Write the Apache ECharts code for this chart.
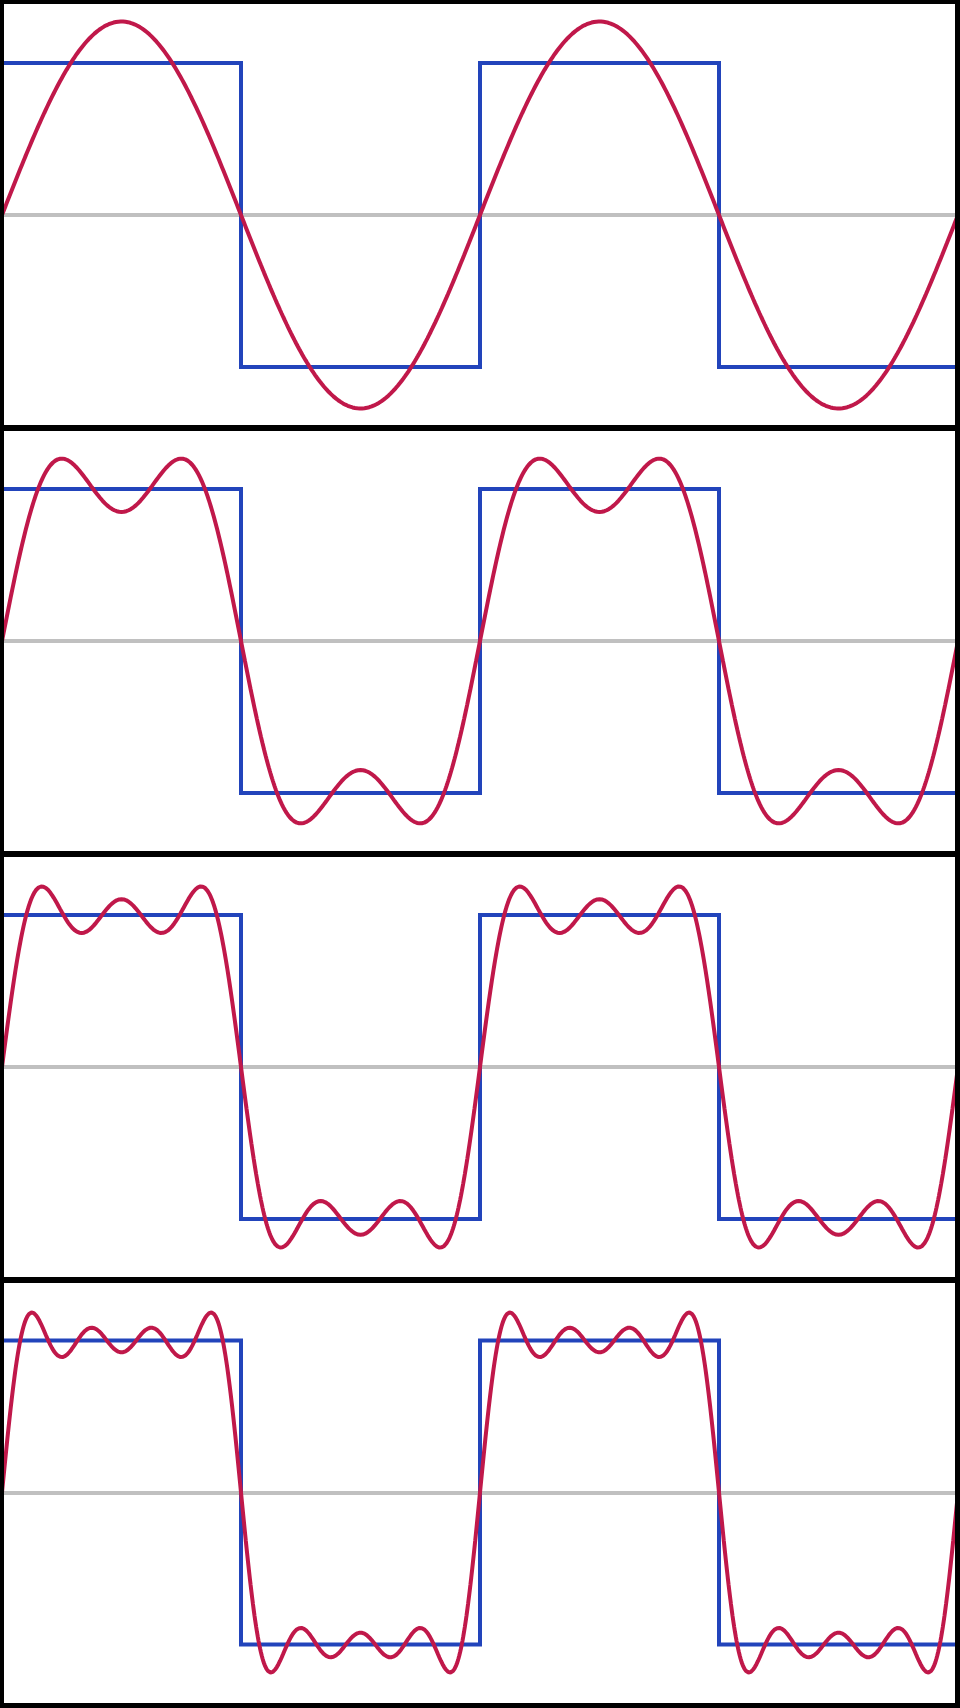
<!DOCTYPE html>
<html><head><meta charset="utf-8">
<script src="https://cdn.jsdelivr.net/npm/echarts@6/dist/echarts.min.js"></script>
<style>html,body{margin:0;padding:0;background:#fff}#c{width:960px;height:1708px}</style>
</head><body><div id="c"></div>
<script>
// Fourier partial sums of a square wave (amplitude 1, period 1)
const harmonicOrders = [1, 3, 5, 7];
const harmonicAmplitudes = [1.273, 0.424, 0.255, 0.182];
const termsPerPanel = [1, 2, 3, 4];
const squareEdges = [0, 0.5, 1, 1.5, 2];
const squareLevels = [1, -1, 1, -1];
const panelCenters = [215, 641, 1067, 1492.5];

const BLUE = '#2244BB', RED = '#C0184A', GREY = '#C0C0C0';
const SAMPLES = 1200;
const Y_EXT = 1.38, PX_PER_UNIT = 152;

function squareData() {
  const d = [];
  for (let i = 0; i < squareLevels.length; i++) {
    d.push([squareEdges[i], squareLevels[i]]);
    d.push([squareEdges[i + 1], squareLevels[i]]);
  }
  return d;
}
function partialSum(n) {
  const d = [];
  const x0 = squareEdges[0], x1 = squareEdges[squareEdges.length - 1];
  for (let i = 0; i <= SAMPLES; i++) {
    const x = x0 + (x1 - x0) * i / SAMPLES;
    let y = 0;
    for (let k = 0; k < n; k++) y += harmonicAmplitudes[k] * Math.sin(2 * Math.PI * harmonicOrders[k] * x);
    d.push([x, y]);
  }
  return d;
}

const grids = [], xAxes = [], yAxes = [], series = [];
const half = Y_EXT * PX_PER_UNIT;
panelCenters.forEach((c, i) => {
  grids.push({ left: 2, width: 956, top: c - half, height: 2 * half, containLabel: false });
  xAxes.push({ gridIndex: i, type: 'value', min: 0, max: 2,
    axisLine: { show: true, onZero: true, lineStyle: { color: GREY, width: 4 } },
    axisTick: { show: false }, axisLabel: { show: false }, splitLine: { show: false } });
  yAxes.push({ gridIndex: i, type: 'value', min: -Y_EXT, max: Y_EXT, show: false, splitLine: { show: false } });
  series.push({ type: 'line', xAxisIndex: i, yAxisIndex: i, data: squareData(), showSymbol: false,
    symbol: 'none', lineStyle: { color: BLUE, width: 4, join: 'miter', cap: 'square' }, z: 3, animation: false });
  series.push({ type: 'line', xAxisIndex: i, yAxisIndex: i, data: partialSum(termsPerPanel[i]), showSymbol: false,
    symbol: 'none', clip: false, lineStyle: { color: RED, width: 4 }, z: 4, animation: false });
});

const K = '#000';
const borders = [
  [0, 0, 4, 1708], [955, 0, 5, 1708], [0, 0, 960, 4], [0, 1703, 960, 5],
  [0, 425, 960, 6], [0, 851, 960, 6], [0, 1277, 960, 6]
].map(r => ({ type: 'rect', shape: { x: r[0], y: r[1], width: r[2], height: r[3] }, style: { fill: K }, z: 100 }));

const chart = echarts.init(document.getElementById('c'), null, { renderer: 'canvas' });
chart.setOption({ animation: false, backgroundColor: '#fff', grid: grids, xAxis: xAxes, yAxis: yAxes, series, graphic: borders });
</script></body></html>
